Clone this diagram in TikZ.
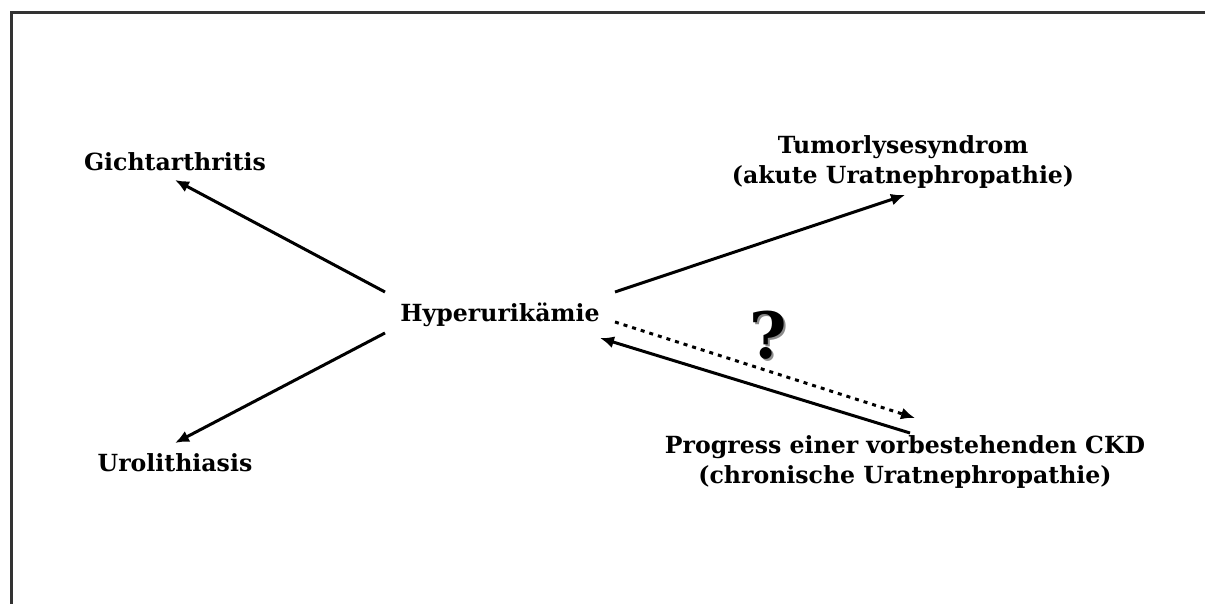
\documentclass[tikz,border=0pt]{standalone}
\usepackage{fontspec}
\setmainfont{DejaVu Serif}
\usepackage{tikz}
\usetikzlibrary{arrows.meta,calc,positioning}
\tikzstyle{lbl}=[font=\fontsize{11.8}{15}\selectfont\bfseries, align=center, inner sep=0pt]
\tikzstyle{arr}=[line width=1.5pt, -{Latex[length=7pt,width=6pt]}]

\begin{document}
\begin{tikzpicture}[x=0.5pt,y=-0.5pt]
	\useasboundingbox (0,0) rectangle (1205,604);
	% frame
	\draw [line width=1.7pt, black!80] (11.5,604) -- (11.5,12.5) -- (1205,12.5);
	\node [lbl] (hyp) at (500, 315) {Hyperurikämie};
	\node [lbl] (gicht) at (175, 162) {Gichtarthritis};
	\node [lbl] (uro) at (175, 463) {Urolithiasis};
	\node [lbl] (tumor) at (903, 162) {Tumorlysesyndrom\\(akute Uratnephropathie)};
	\node [lbl] (ckd) at (905, 462) {Progress einer vorbestehenden CKD\\(chronische Uratnephropathie)};
	\node [font=\fontsize{32}{32}\selectfont\bfseries, text=black!45] (qs) at (770, 337) {?};
	\node [font=\fontsize{32}{32}\selectfont\bfseries] (q) at (768, 335) {?};
	\coordinate (h1) at (385, 292);
	\coordinate (h2) at (385, 333);
	\coordinate (h3) at (615, 292);
	\coordinate (h4) at (615, 322);
	\coordinate (h5) at (600, 338);
	\coordinate (g) at (175, 180);
	\coordinate (u) at (175, 443);
	\coordinate (t) at (905, 195);
	\coordinate (c1) at (915, 418);
	\coordinate (c2) at (910, 433);
	\draw [arr] (h1) -- (g);
	\draw [arr] (h2) -- (u);
	\draw [arr] (h3) -- (t);
	\draw [arr, dash pattern=on 2pt off 2.5pt] (h4) -- (c1);
	\draw [arr] (c2) -- (h5);
\end{tikzpicture}
\end{document}
